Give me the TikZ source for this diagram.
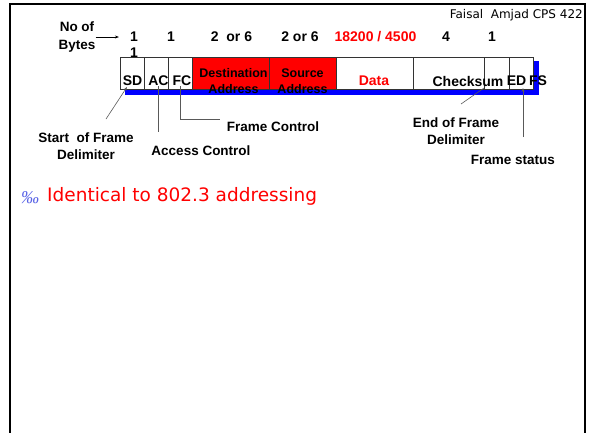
\documentclass[tikz,border=0pt]{standalone}
\usepackage{fontspec}
\setsansfont{Liberation Sans}
\newfontfamily\comicfont{DejaVu Sans}
\newfontfamily\bulletfont{Liberation Serif}
\usetikzlibrary{
    arrows.meta,
    positioning
}
\definecolor{slidered}{RGB}{255,0,0}
\definecolor{slideblue}{RGB}{0,0,255}
\definecolor{bulletblue}{RGB}{90,100,230}
\tikzset{
    fieldbox/.style={draw=black!80, fill=white, line width=0.6pt, minimum height=32pt, inner sep=0pt, outer sep=0pt},
    addrbox/.style={fieldbox, fill=slidered},
    bytecount/.style={font=\sffamily\bfseries\fontsize{14}{16}\selectfont, inner sep=0pt},
    fieldname/.style={font=\sffamily\bfseries\fontsize{14}{16}\selectfont, inner sep=0pt},
    addrname/.style={font=\sffamily\bfseries\fontsize{12.5}{16}\selectfont, align=center, inner sep=0pt},
    callout/.style={font=\sffamily\bfseries\fontsize{13.5}{17.5}\selectfont, align=center, inner sep=0pt},
    leader/.style={draw=black!65, line width=0.6pt},
    pointer/.style={leader, -{Stealth[length=4pt,width=3pt]}}
}

\begin{document}
\begin{tikzpicture}[x=1pt, y=-1pt]
    \useasboundingbox (0,0) rectangle (589,432);
    % slide frame, open at the bottom
    \draw[line width=2.4pt] (10,440) -- (10,4) -- (585,4) -- (585,440);
    \node[font=\comicfont\fontsize{12}{14}\selectfont, anchor=east, inner sep=0pt] (author) at (583,15) {Faisal\ \ Amjad CPS 422};

    % shadow behind the frame fields
    \fill[slideblue] (125,61) rectangle (539,95);

    % the fields
    \node[fieldbox, minimum width=24pt, anchor=north west] (sd) at (120,57) {};
    \node[fieldbox, minimum width=24pt, right=0pt of sd] (ac) {};
    \node[fieldbox, minimum width=24pt, right=0pt of ac] (fc) {};
    \node[addrbox, minimum width=77pt, right=0pt of fc] (dst) {};
    \node[addrbox, minimum width=67pt, right=0pt of dst] (src) {};
    \node[fieldbox, minimum width=77pt, right=0pt of src] (data) {};
    \node[fieldbox, minimum width=71pt, right=0pt of data] (fcs) {};
    \node[fieldbox, minimum width=25pt, right=0pt of fcs] (ed) {};
    \node[fieldbox, minimum width=24pt, right=0pt of ed] (fs) {};

    \node[fieldname] (sdname) at (132.5,81) {SD};
    \node[fieldname] (acname) at (158.5,81) {AC};
    \node[fieldname] (fcname) at (182,81) {FC};
    \node[addrname] (dstname) at (233.5,81) {Destination\\Address};
    \node[addrname] (srcname) at (302.5,81) {Source\\Address};
    \node[fieldname, text=slidered] (dataname) at (374,81) {Data};
    \node[fieldname] (fcsname) at (468,81) {Checksum};
    \node[fieldname] (edname) at (516.5,81) {ED};
    \node[fieldname] (fsname) at (538,81) {FS};

    % byte counts
    \node[callout] (bytes) at (77,37) {No of\\Bytes};
    \node[bytecount] (count1) at (134,37) {1};
    \node[bytecount] (count2) at (171,37) {1};
    \node[bytecount] (count3) at (231.5,37) {2\ \ or 6};
    \node[bytecount] (count4) at (300,37) {2 or 6};
    \node[bytecount, text=slidered] (count5) at (375.5,37) {18200 / 4500};
    \node[bytecount] (count6) at (446,37) {4};
    \node[bytecount] (count7) at (492,37) {1};
    \node[bytecount] (count8) at (134,53) {1};
    \draw[pointer, draw=black, shorten >=11pt] (bytes.east) -- (count1.west);

    % callouts
    \node[callout] (sofd) at (86,146) {Start\ \ of Frame\\Delimiter};
    \node[callout] (acdesc) at (201,151) {Access Control};
    \node[callout] (fcdesc) at (273,127) {Frame Control};
    \node[callout] (eofd) at (456,131) {End of Frame\\Delimiter};
    \node[callout] (fsdesc) at (513,160) {Frame status};

    \coordinate (sdfoot) at (106,119);
    \coordinate (acfoot) at (158.5,132);
    \coordinate (fcfoot) at (220,119);
    \coordinate (edfoot) at (461,104);
    \coordinate (fsfoot) at (523,137);
    \draw[pointer] (sdfoot) -- ([xshift=-5pt,yshift=2pt]sd.south);
    \draw[leader] ([xshift=2.5pt,yshift=3pt]ac.south) -- (acfoot);
    \draw[leader] ([yshift=3pt]fc.south) |- (fcfoot);
    \draw[leader] (edfoot) -- ([yshift=1pt]ed.south west);
    \draw[pointer] (fsfoot) -- ([xshift=2pt,yshift=1pt]fs.south);

    % bullet point
    \node[font=\bulletfont\itshape\fontsize{18}{20}\selectfont, text=bulletblue, inner sep=0pt] (bullet) at (30,198) {‰};
    \node[font=\comicfont\fontsize{18.5}{22}\selectfont, text=slidered, anchor=west, inner sep=0pt] (point) at (47,196) {Identical to 802.3 addressing};
\end{tikzpicture}
\end{document}
